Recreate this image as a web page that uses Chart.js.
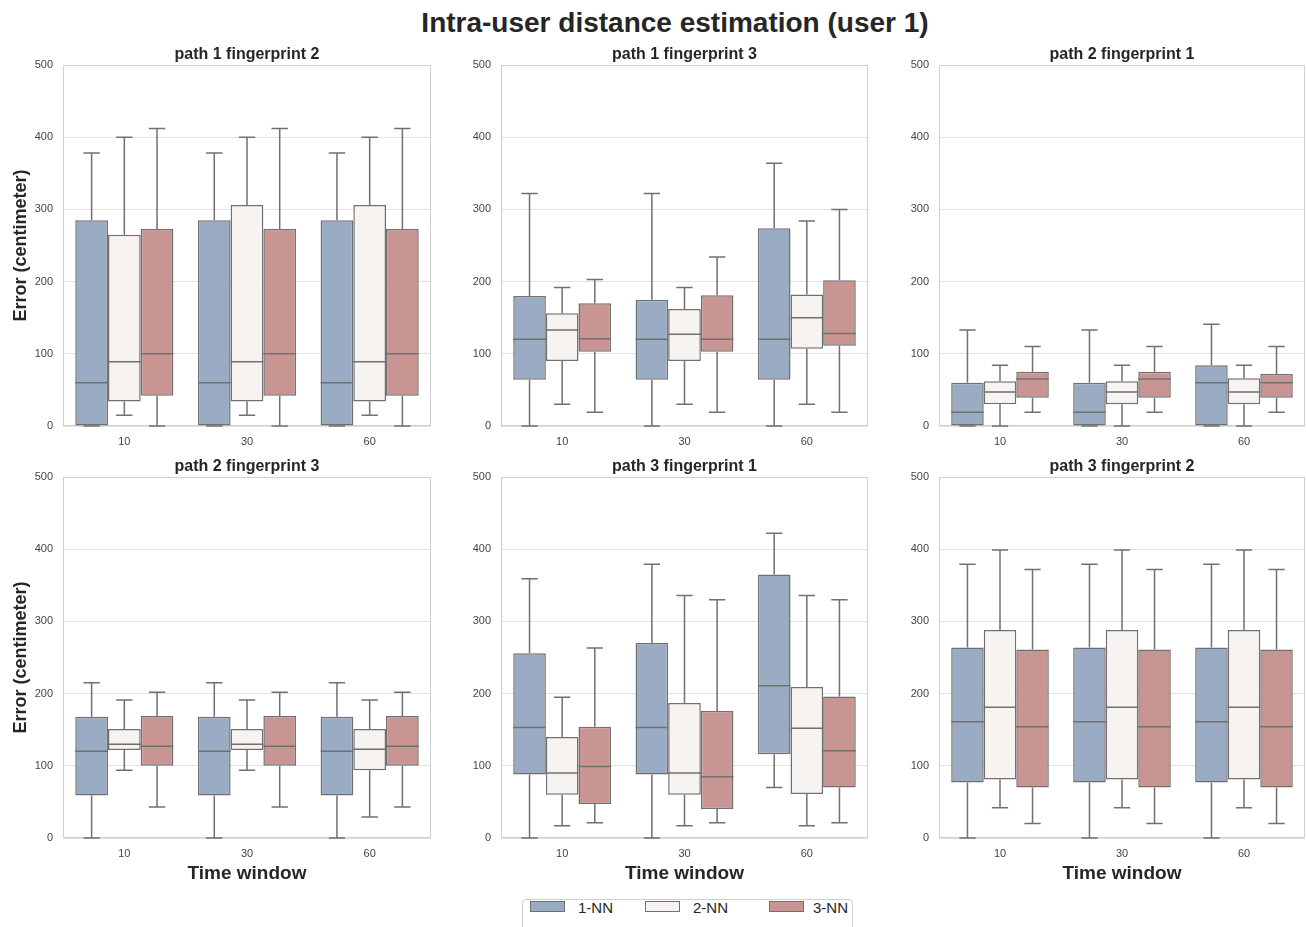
<!DOCTYPE html>
<html>
<head>
<meta charset="utf-8">
<title>Intra-user distance estimation (user 1)</title>
<script src="https://cdn.jsdelivr.net/npm/chart.js@4.4.1/dist/chart.umd.min.js"></script>
<style>
  html, body { margin: 0; padding: 0; background: #fff; }
  body { width: 1306px; height: 927px; overflow: hidden; position: relative; font-family: "Liberation Sans", Arial, sans-serif; }
  #title { position: absolute; left: 0; width: 1350px; top: 9px; text-align: center; font-size: 28px; line-height: 28px; font-weight: bold; color: #262626; }
  canvas { position: absolute; }
  #legend { position: absolute; left: 522px; top: 899px; width: 329px; height: 40px; border: 1px solid #cfcfcf; border-radius: 4px; background: #fff; }
  .item { position: absolute; top: 0px; font-size: 15px; line-height: 16px; color: #262626; }
  .swatch { position: absolute; top: 1px; width: 33px; height: 9px; border: 1px solid #707070; }
</style>
</head>
<body>
<div id="title">Intra-user distance estimation (user 1)</div>
<div id="legend"></div>

<script>
// 基本数据：时间窗口、方法、子图标题
const windows = ['10', '30', '60'];
const methods = ['1-NN', '2-NN', '3-NN'];
const panelTitles = [
  'path 1 fingerprint 2', 'path 1 fingerprint 3', 'path 2 fingerprint 1',
  'path 2 fingerprint 3', 'path 3 fingerprint 1', 'path 3 fingerprint 2'
];
const yTicks = [0, 100, 200, 300, 400, 500];

// 每个子图：[方法][时间窗口] = [min, q1, median, q3, max]
const path1fp2 = [
  [[0, 0, 60, 285, 378], [0, 0, 60, 285, 378], [0, 0, 60, 285, 378]],
  [[15, 34, 89, 265, 400], [15, 34, 89, 306, 400], [15, 34, 89, 306, 400]],
  [[0, 42, 100, 273, 412], [0, 42, 100, 273, 412], [0, 42, 100, 273, 412]]
];
const path1fp3 = [
  [[0, 64, 120, 180, 322], [0, 64, 120, 175, 322], [0, 64, 120, 274, 364]],
  [[30, 90, 133, 156, 192], [30, 90, 127, 162, 192], [30, 107, 150, 182, 284]],
  [[19, 103, 121, 170, 203], [19, 103, 120, 181, 234], [19, 111, 128, 202, 300]]
];
const path2fp1 = [
  [[0, 0, 19, 60, 133], [0, 0, 19, 60, 133], [0, 0, 60, 84, 141]],
  [[0, 30, 47, 62, 84], [0, 30, 47, 62, 84], [0, 30, 47, 66, 84]],
  [[19, 39, 65, 75, 110], [19, 39, 65, 75, 110], [19, 39, 60, 72, 110]]
];
const path2fp3 = [
  [[0, 59, 120, 168, 215], [0, 59, 120, 168, 215], [0, 59, 120, 168, 215]],
  [[94, 122, 130, 151, 191], [94, 122, 130, 151, 191], [29, 94, 123, 151, 191]],
  [[43, 100, 127, 169, 202], [43, 100, 127, 169, 202], [43, 100, 127, 169, 202]]
];
const path3fp1 = [
  [[0, 88, 153, 256, 359], [0, 88, 153, 270, 379], [70, 116, 211, 365, 422]],
  [[17, 60, 90, 140, 195], [17, 60, 90, 187, 336], [17, 61, 152, 209, 336]],
  [[21, 47, 99, 154, 263], [21, 40, 85, 176, 330], [21, 70, 121, 196, 330]]
];
const path3fp2 = [
  [[0, 77, 161, 264, 379], [0, 77, 161, 264, 379], [0, 77, 161, 264, 379]],
  [[42, 81, 181, 288, 399], [42, 81, 181, 288, 399], [42, 81, 181, 288, 399]],
  [[20, 70, 154, 261, 372], [20, 70, 154, 261, 372], [20, 70, 154, 261, 372]]
];
const panels = [path1fp2, path1fp3, path2fp1, path2fp3, path3fp1, path3fp2];

// 颜色
const fills = ['#9aabc4', '#f7f3f1', '#c99593'];
const lineColor = '#707070';
const fontFamily = '"Liberation Sans", Arial, sans-serif';

// 子图绘图区位置
const plotLefts = [63, 501, 939];
const plotWidths = [368, 367, 366];
const plotTops = [65, 477];
const plotHeight = 361;

// 箱线图的须、中位线和边框
const boxPlugin = {
  id: 'boxWhiskers',
  beforeDatasetsDraw(chart) {
    const {ctx, chartArea: a} = chart;
    ctx.save();
    ctx.strokeStyle = '#d0d0d0';
    ctx.lineWidth = 1;
    ctx.strokeRect(a.left + 0.5, a.top + 0.5, a.width - 1, a.height - 1);
    ctx.restore();
  },
  afterDatasetsDraw(chart) {
    const {ctx} = chart;
    const y = chart.scales.y;
    ctx.save();
    ctx.strokeStyle = lineColor;
    ctx.lineWidth = 1.5;
    chart.data.datasets.forEach((ds, di) => {
      const meta = chart.getDatasetMeta(di);
      meta.data.forEach((bar, i) => {
        const [mn, q1, med, q3, mx] = ds.stats[i];
        const x = bar.x, w = bar.width;
        const cap = w / 4;
        ctx.beginPath();
        // 上须
        ctx.moveTo(x, y.getPixelForValue(q3));
        ctx.lineTo(x, y.getPixelForValue(mx));
        ctx.moveTo(x - cap, y.getPixelForValue(mx));
        ctx.lineTo(x + cap, y.getPixelForValue(mx));
        // 下须
        ctx.moveTo(x, y.getPixelForValue(q1));
        ctx.lineTo(x, y.getPixelForValue(mn));
        ctx.moveTo(x - cap, y.getPixelForValue(mn));
        ctx.lineTo(x + cap, y.getPixelForValue(mn));
        // 中位线
        ctx.moveTo(x - w / 2, y.getPixelForValue(med));
        ctx.lineTo(x + w / 2, y.getPixelForValue(med));
        ctx.stroke();
      });
    });
    ctx.restore();
  }
};

function makeChart(p) {
  const col = p % 3, row = Math.floor(p / 3);
  const yw = col === 0 ? 63 : 45;
  const rp = col === 2 ? 1 : 3;
  const th = 30;
  const xh = row === 0 ? 22 : 50;

  const canvas = document.createElement('canvas');
  canvas.width = yw + plotWidths[col] + rp;
  canvas.height = th + plotHeight + xh;
  canvas.style.left = (plotLefts[col] - yw) + 'px';
  canvas.style.top = (plotTops[row] - th) + 'px';
  document.body.appendChild(canvas);

  const data = panels[p];
  new Chart(canvas, {
    type: 'bar',
    data: {
      labels: windows,
      datasets: methods.map((m, k) => ({
        label: m,
        data: data[k].map(s => [s[1], s[3]]),
        stats: data[k],
        backgroundColor: fills[k],
        borderColor: lineColor,
        borderWidth: 1.5,
        borderSkipped: false,
        categoryPercentage: 0.8,
        barPercentage: 1.0
      }))
    },
    options: {
      responsive: false,
      animation: false,
      layout: { padding: { left: 0, right: rp, top: 0, bottom: 0 } },
      plugins: {
        legend: { display: false },
        tooltip: { enabled: false },
        title: {
          display: true,
          fullSize: false,   // 标题只跨绘图区宽度，居中于绘图区
          text: panelTitles[p],
          color: '#262626',
          font: { family: fontFamily, size: 16, weight: 'bold', lineHeight: '17px' },
          padding: { top: 11, bottom: 2 }
        }
      },
      scales: {
        x: {
          grid: { display: false, drawTicks: false },
          border: { display: false },
          ticks: { color: '#444', font: { family: fontFamily, size: 11 }, padding: 9, maxRotation: 0 },
          title: {
            display: row === 1,
            text: 'Time window',
            color: '#262626',
            font: { family: fontFamily, size: 19, weight: 'bold', lineHeight: '20px' },
            padding: { top: 0, bottom: 4 }
          },
          afterFit: s => { s.height = xh; }
        },
        y: {
          min: 0,
          max: 500,
          afterBuildTicks: s => { s.ticks = yTicks.map(v => ({ value: v })); },
          grid: { color: '#e3e3e3', lineWidth: 1, drawTicks: false },
          border: { display: false },
          ticks: { color: '#444', font: { family: fontFamily, size: 11 }, padding: 10 },
          title: {
            display: col === 0,
            text: 'Error (centimeter)',
            color: '#262626',
            font: { family: fontFamily, size: 18, weight: 'bold', lineHeight: '20px' },
            padding: { top: 11, bottom: 0 }
          },
          afterFit: s => { s.width = yw; }
        }
      }
    },
    plugins: [boxPlugin]
  });
}

panels.forEach((_, p) => makeChart(p));

// 图例
const legend = document.getElementById('legend');
const swatchX = [7, 122, 246];
const textX = [55, 170, 290];
methods.forEach((m, k) => {
  const sw = document.createElement('div');
  sw.className = 'swatch';
  sw.style.left = swatchX[k] + 'px';
  sw.style.background = fills[k];
  legend.appendChild(sw);
  const t = document.createElement('div');
  t.className = 'item';
  t.style.left = textX[k] + 'px';
  t.textContent = m;
  legend.appendChild(t);
});
</script>
</body>
</html>
